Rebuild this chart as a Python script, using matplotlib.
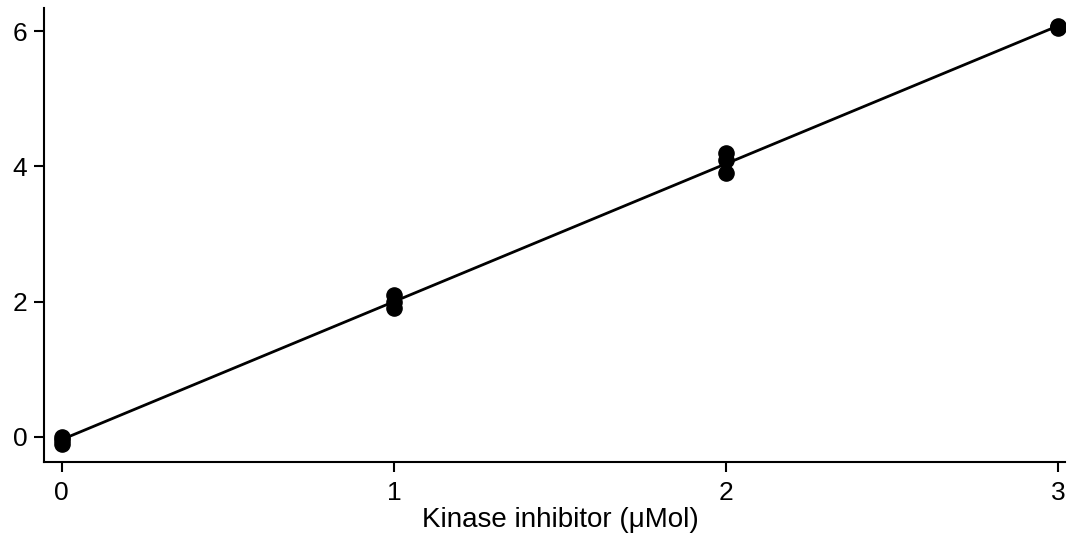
import numpy as np
import matplotlib
matplotlib.use("Agg")
import matplotlib.pyplot as plt

plt.rcParams['font.family'] = ['Liberation Sans', 'DejaVu Sans']

dose = [0, 0, 0, 1, 1, 1, 2, 2, 2, 3, 3, 3]
response = [0.0, -0.05, -0.1, 2.1, 2.0, 1.9, 4.2, 4.1, 3.9, 6.05, 6.06, 6.07]
xticks = [0, 1, 2, 3]
yticks = [0, 2, 4, 6]

fig = plt.figure(figsize=(10.69, 5.44), dpi=100)
ax = fig.add_axes([0.041, 0.151, 0.955, 0.834])

slope, intercept = np.polyfit(dose, response, 1)
xs = np.array([min(dose), max(dose)])
ax.plot(xs, slope * xs + intercept, color='black', lw=2, zorder=2)
ax.scatter(dose, response, s=120, color='black', zorder=3)

xmin, xmax = -0.054, 3.02
ax.set_xlim(xmin, xmax)
ax.set_ylim(-0.37, 6.34)
ax.set_xticks(xticks)
ax.set_yticks(yticks)
for s in ['top', 'right']:
    ax.spines[s].set_visible(False)
for s in ['left', 'bottom']:
    ax.spines[s].set_linewidth(1.5)
ax.tick_params(labelsize=19, width=1.5, length=7, direction='out')
ax.tick_params(axis='x', pad=7)
ax.tick_params(axis='y', pad=5)
ax.set_xlabel('Kinase inhibitor (μMol)', fontsize=20, labelpad=1)
ax.xaxis.label.set_x((np.mean([min(dose), max(dose)]) - xmin) / (xmax - xmin))

fig.savefig('out.png', dpi=100)
